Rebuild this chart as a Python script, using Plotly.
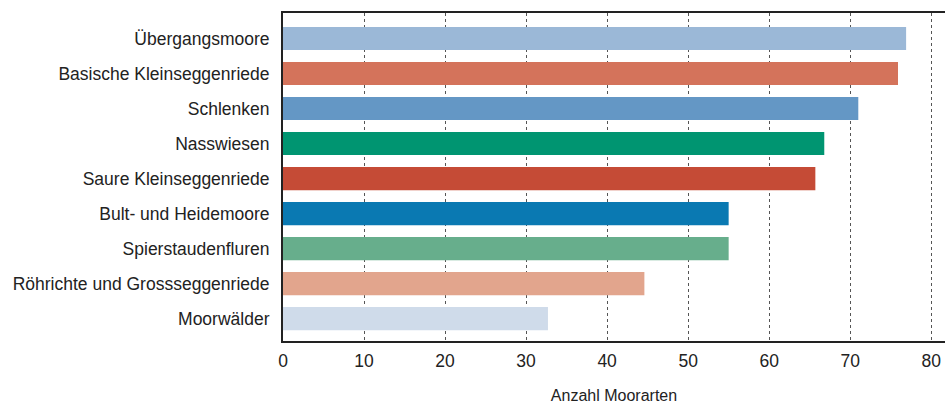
import plotly.graph_objects as go

categories = ["Übergangsmoore", "Basische Kleinseggenriede", "Schlenken", "Nasswiesen",
              "Saure Kleinseggenriede", "Bult- und Heidemoore", "Spierstaudenfluren",
              "Röhrichte und Grossseggenriede", "Moorwälder"]
values = [76.9, 75.9, 71.0, 66.8, 65.7, 55.0, 55.0, 44.6, 32.7]
colors = ["#9BB8D7", "#D4735B", "#6497C5", "#009571", "#C54B36",
          "#0A79B2", "#67AE8C", "#E2A58D", "#CFDBEA"]
x_ticks = [0, 10, 20, 30, 40, 50, 60, 70, 80]
x_title = "Anzahl Moorarten"

cats_r = categories[::-1]
vals_r = values[::-1]
cols_r = colors[::-1]

fig = go.Figure(go.Bar(
    y=cats_r, x=vals_r, orientation="h",
    marker=dict(color=cols_r, line=dict(width=0)),
    width=0.66, hoverinfo="x+y",
))

font = "Liberation Sans, Arial, sans-serif"
fig.update_layout(
    width=945, height=404,
    margin=dict(l=283, r=0, t=13, b=63, autoexpand=False),
    paper_bgcolor="white", plot_bgcolor="white",
    showlegend=False,
    font=dict(family=font, size=17.5, color="#222"),
    xaxis=dict(
        range=[0, 81.7], tickvals=x_ticks, ticks="", showline=True,
        linecolor="#222", linewidth=1.5, mirror=True,
        showgrid=True, gridcolor="#555", gridwidth=1, griddash="3px,3px",
        zeroline=False, ticklabelstandoff=3,
        tickfont=dict(size=17.5, color="#222"),
        title=dict(text=x_title, font=dict(size=16, color="#222"), standoff=22),
    ),
    yaxis=dict(
        range=[-0.64, 8.73], showline=True, linecolor="#222", linewidth=2,
        showgrid=False, zeroline=False, ticks="", ticklabelstandoff=8,
        tickfont=dict(size=17.5, color="#222"),
    ),
)

fig.write_html("out.html", config={"displayModeBar": False},
               post_script="document.body.style.margin='0';document.body.style.overflow='hidden';")
